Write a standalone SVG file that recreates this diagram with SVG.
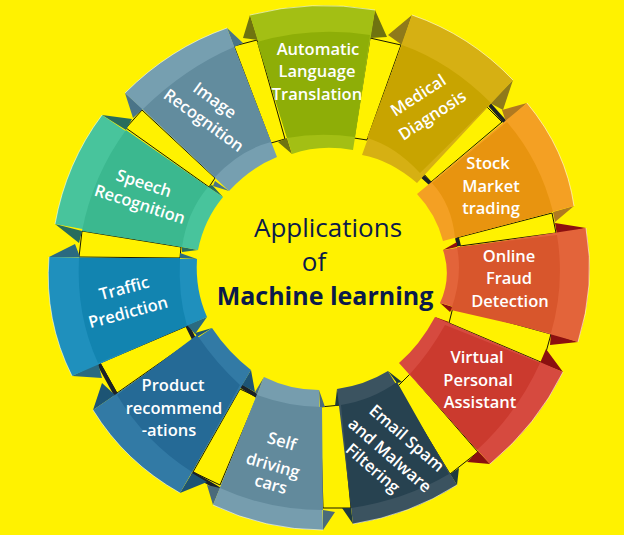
<svg xmlns="http://www.w3.org/2000/svg" width="624" height="535" viewBox="0 0 624 535">
<style>
.t{font-family:"Open Sans","Noto Sans",sans-serif;font-size:16.5px;font-weight:600;fill:#fff;text-anchor:middle}
.c{font-family:"Open Sans","Noto Sans",sans-serif;fill:#0b1a4a;text-anchor:middle}
.g{fill:#fff200;stroke:#000;stroke-width:.9}
.b{stroke:#1c2226;stroke-width:4;fill:none}
.o{stroke:#fff;stroke-width:.7;stroke-opacity:.8;fill:none}
</style>
<rect width="624" height="535" fill="#fff200"/>
<g id="connectors">
<path class="g" d="M234 46L257 40L285 139L271 143Z"/>
<path class="g" d="M370 38L401 45L367 140L354 138Z"/>
<path class="g" d="M487 107L502 122L431 182L423 173Z"/>
<path class="g" d="M552 213L556 233L460 246L456 238Z"/>
<path class="g" d="M453 307L551 334L543 363L449 323Z"/>
<path class="g" d="M410 374L478 452L450 474L397 387Z"/>
<path class="g" d="M320 407L341 405L351 508L323 508Z"/>
<path class="g" d="M240 389L257 397L220 485L193 472Z"/>
<path class="g" d="M100 363L187 326L194 339L117 393Z"/>
<path class="g" d="M82 231L181 247L180 258L79 257Z"/>
<path class="g" d="M142 110L215 178L209 187L126 128Z"/>
<path class="b" d="M489 104L505 122M421 175L431 184"/>
<path class="b" d="M457 238L459 246" stroke-width="3"/>
<path class="b" d="M99 364L116 395M187 325L194 339"/>
<path class="b" d="M241 386L257 396M192 473L219 489"/>
</g>
<g id="node-automatic-language-translation">
<path fill="#6f7310" d="M250 15L243 38L258 40ZM375 10L387 37L370 38ZM292 154L287 138L278 142Z"/>
<path fill="#a3bf14" d="M250 15Q312 -1 375 10L353 150Q320 144 292 154Z"/>
<path fill="#8eae07" d="M257 42Q313 26 370 35L355 137Q320 132 287 138Z"/>
<path class="o" d="M250 15Q312 -1 375 10"/>
<text class="t" x="318" y="55">Automatic</text><text class="t" x="317" y="77">Language</text><text class="t" x="317" y="100">Translation</text>
</g>
<g id="node-medical-diagnosis">
<path fill="#8f7a1a" d="M412 15L388 35L402 45ZM513 80L503 110L490 103Z"/>
<path fill="#d6b013" d="M412 15Q470 35 513 80L417 183Q390 160 362 155Z"/>
<path fill="#c8a400" d="M402 45Q450 62 491 103L420 173Q395 146 367 138Z"/>
<path class="o" d="M412 15Q470 35 513 80"/>
<g transform="translate(418 95) rotate(-33)"><text class="t" y="6">Medical</text></g>
<g transform="translate(432 115) rotate(-33)"><text class="t" y="6">Diagnosis</text></g>
</g>
<g id="node-stock-market-trading">
<path fill="#b07a20" d="M527 103L502 110L506 122ZM574 206L555 222L553 212Z"/>
<path fill="#f4a023" d="M527 103Q566 150 574 206L443 241Q436 214 417 194Z"/>
<path fill="#e8940f" d="M507 122Q540 160 553 212L455 238Q452 205 432 183Z"/>
<path class="o" d="M527 103Q566 150 574 206"/>
<text class="t" x="488" y="169">Stock</text><text class="t" x="491" y="192">Market</text><text class="t" x="491" y="214">trading</text>
</g>
<g id="node-online-fraud-detection">
<path fill="#8c1010" d="M586 228L555 223L557 235ZM578 342L550 345L551 333ZM440 303L450 312L453 307ZM443 250L457 242L457 247Z"/>
<path fill="#e3643a" d="M586 228Q596 285 578 342L440 303Q452 277 443 250Z"/>
<path fill="#d8562c" d="M557 235Q565 285 551 333L451 310Q463 277 457 247Z"/>
<path class="o" d="M586 228Q596 285 578 342"/>
<text class="t" x="509" y="262">Online</text><text class="t" x="509" y="284">Fraud</text><text class="t" x="510" y="307">Detection</text>
</g>
<g id="node-virtual-personal-assistant">
<path fill="#8a1010" d="M563 372L546 349L540 363ZM490 464L467 462L478 451ZM435 317L449 322L445 326Z"/>
<path fill="#d64a3f" d="M563 372Q537 425 490 464L399 363Q420 345 435 317Z"/>
<path fill="#cb3a2e" d="M540 363Q518 412 477 450L410 374Q430 352 445 325Z"/>
<path class="o" d="M563 372Q537 425 490 464"/>
<text class="t" x="477" y="363">Virtual</text><text class="t" x="478" y="386">Personal</text><text class="t" x="480" y="408">Assistant</text>
</g>
<g id="node-email-spam-and-malware-filtering">
<path fill="#1d3a3f" d="M388 371L402 382L397 383ZM457 485L459 468L450 474ZM353 524L342 508L351 508ZM337 389L335 406L341 405Z"/>
<path fill="#3b5360" d="M337 389Q365 385 388 371L457 485Q410 515 353 524Z"/>
<path fill="#274250" d="M341 405Q372 400 397 382L449 474Q405 500 351 508Z"/>
<path class="o" d="M457 485Q410 515 353 524"/>
<g transform="translate(407 438) rotate(41)"><text class="t" y="6">Email Spam</text></g>
<g transform="translate(390 455) rotate(41)"><text class="t" y="6">and Malware</text></g>
<g transform="translate(373 468) rotate(41)"><text class="t" y="6">Filtering</text></g>
</g>
<g id="node-self-driving-cars">
<path fill="#4a6a7a" d="M319 390L325 407L320 407ZM323 530L335 512L323 510ZM213 505L207 485L220 488ZM264 377L255 392L257 395Z"/>
<path fill="#769dae" d="M264 377Q290 390 319 390L323 530Q265 530 213 505Z"/>
<path fill="#628a9c" d="M257 395Q290 407 322 407L323 510Q268 510 220 488Z"/>
<path class="o" d="M323 530Q265 530 213 505"/>
<g transform="translate(282 441) rotate(16)"><text class="t" y="6">Self</text></g>
<g transform="translate(273 465) rotate(16)"><text class="t" y="6">driving</text></g>
<g transform="translate(271 484) rotate(16)"><text class="t" y="6">cars</text></g>
</g>
<g id="node-product-recommendations">
<path fill="#1d5474" d="M93 410L102 383L115 395ZM212 328L195 333L197 337ZM251 370L242 385L255 392ZM180 493L192 473L207 482Z"/>
<path fill="#327aa5" d="M212 328Q228 352 251 370L180 493Q125 462 93 410Z"/>
<path fill="#256a96" d="M197 335Q216 363 240 385L192 472Q145 442 117 395Z"/>
<path class="o" d="M180 493Q125 462 93 410"/>
<text class="t" x="173" y="391">Product</text><text class="t" x="174" y="414">recommend</text><text class="t" x="169" y="436">-ations</text>
</g>
<g id="node-traffic-prediction">
<path fill="#2a6a80" d="M72 376L98 363L102 378ZM49 257L75 244L80 257ZM207 317L187 325L195 334ZM197 259L180 253L180 258Z"/>
<path fill="#1f90bd" d="M49 257Q44 320 72 376L207 317Q195 290 197 259Z"/>
<path fill="#1284b0" d="M79 258Q76 315 98 363L187 326Q178 295 180 258Z"/>
<path class="o" d="M49 257Q44 320 72 376"/>
<g transform="translate(124 288) rotate(-15)"><text class="t" y="6">Traffic</text></g>
<g transform="translate(128 312) rotate(-15)"><text class="t" y="6">Prediction</text></g>
</g>
<g id="node-speech-recognition">
<path fill="#286c5c" d="M102 115L132 119L126 130ZM223 197L212 185L208 187ZM198 250L182 252L182 247ZM55 224L79 243L82 231Z"/>
<path fill="#48c49c" d="M102 115Q66 163 55 224L198 250Q204 220 223 197Z"/>
<path fill="#3bb88f" d="M126 130Q93 175 82 231L182 247Q187 212 208 187Z"/>
<path class="o" d="M102 115Q66 163 55 224"/>
<g transform="translate(144 183) rotate(18)"><text class="t" y="6">Speech</text></g>
<g transform="translate(140 204) rotate(18)"><text class="t" y="6">Recognition</text></g>
</g>
<g id="node-image-recognition">
<path fill="#4a7488" d="M227 28L243 43L234 47ZM125 93L133 118L143 109ZM229 191L215 181L213 186Z"/>
<path fill="#769fb0" d="M125 93Q170 48 227 28L277 157Q250 168 229 191Z"/>
<path fill="#628c9e" d="M143 109Q185 68 234 47L271 142Q240 150 215 177Z"/>
<path class="o" d="M125 93Q170 48 227 28"/>
<g transform="translate(215 100) rotate(36)"><text class="t" y="6">Image</text></g>
<g transform="translate(204 120) rotate(36)"><text class="t" y="6">Recognition</text></g>
</g>
<g id="node-center">
<text class="c" x="328" y="237" font-size="26">Applications</text>
<text class="c" x="314" y="271" font-size="26">of</text>
<text class="c" x="325" y="305" font-size="25" font-weight="700">Machine learning</text>
</g>
</svg>
